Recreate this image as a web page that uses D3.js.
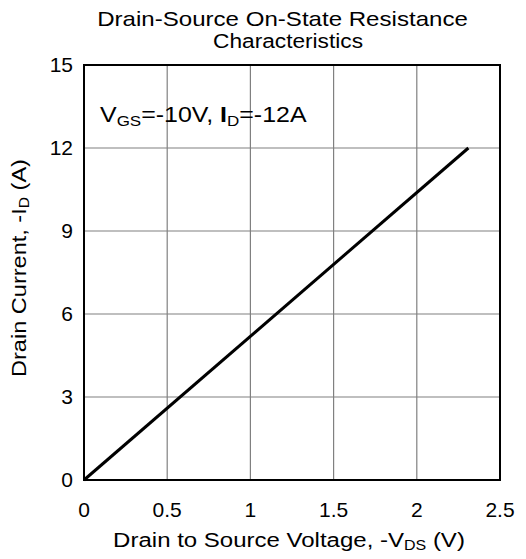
<!DOCTYPE html>
<html>
<head>
<meta charset="utf-8">
<script src="https://cdn.jsdelivr.net/npm/d3@7"></script>
<style>
  body { margin: 0; background: #fff; }
  svg text { font-family: "Liberation Sans", Arial, sans-serif; fill: #000; }
</style>
</head>
<body>
<div id="chart-area"></div>
<script>
// data
var vds = [0, 2.31];          // -VDS (V)
var id = [0, 12];             // -ID (A)
var xTicks = [0, 0.5, 1, 1.5, 2, 2.5];
var yTicks = [0, 3, 6, 9, 12, 15];

var svg_width = 526, svg_height = 559;
var margin = { top: 65, right: 26, bottom: 79, left: 84 };
var width = svg_width - margin.left - margin.right;
var height = svg_height - margin.top - margin.bottom;

var svg = d3.select("#chart-area").append("svg")
    .attr("width", svg_width)
    .attr("height", svg_height);

var g = svg.append("g")
    .attr("transform", "translate(" + margin.left + "," + margin.top + ")");

var x = d3.scaleLinear().domain([0, 2.5]).range([0, width]);
var y = d3.scaleLinear().domain([0, 15]).range([height, 0]);

// grid
g.selectAll(".vgrid").data(xTicks.slice(1, -1)).enter().append("line")
    .attr("x1", d => x(d)).attr("x2", d => x(d))
    .attr("y1", 0).attr("y2", height)
    .attr("stroke", "#808080").attr("stroke-width", 1.2);
g.selectAll(".hgrid").data(yTicks.slice(1, -1)).enter().append("line")
    .attr("y1", d => y(d)).attr("y2", d => y(d))
    .attr("x1", 0).attr("x2", width)
    .attr("stroke", "#808080").attr("stroke-width", 1.2);

// frame
g.append("rect")
    .attr("width", width).attr("height", height)
    .attr("fill", "none").attr("stroke", "#000").attr("stroke-width", 2);

// tick labels
g.selectAll(".xt").data(xTicks).enter().append("text")
    .attr("x", d => x(d)).attr("y", height + 37)
    .attr("text-anchor", "middle").attr("font-size", "21px")
    .text(d => d);
g.selectAll(".yt").data(yTicks).enter().append("text")
    .attr("x", -11).attr("y", d => y(d) + 7)
    .attr("text-anchor", "end").attr("font-size", "21px")
    .text(d => d);

// the curve
var line = d3.line().x(d => x(d[0])).y(d => y(d[1]));
g.append("path")
    .datum(d3.zip(vds, id))
    .attr("d", line)
    .attr("fill", "none").attr("stroke", "#000").attr("stroke-width", 3);

// stretch a text horizontally so it spans the wanted width
function fitWidth(sel, w) {
    var bw = sel.node().getBBox().width;
    return w / bw;
}

// title
var t1 = svg.append("text").attr("text-anchor", "middle").attr("font-size", "20px")
    .text("Drain-Source On-State Resistance");
t1.attr("transform", "translate(282.5,26) scale(" + fitWidth(t1, 371) + ",1)");
var t2 = svg.append("text").attr("text-anchor", "middle").attr("font-size", "20px")
    .text("Characteristics");
t2.attr("transform", "translate(288,48) scale(" + fitWidth(t2, 150) + ",1)");

// annotation
var ann = svg.append("text").attr("font-size", "22px");
ann.append("tspan").text("V");
ann.append("tspan").attr("font-size", "15px").attr("dy", 4).text("GS");
ann.append("tspan").attr("dy", -4).text("=-10V, ");
ann.append("tspan").attr("font-weight", "bold").text("I");
ann.append("tspan").attr("font-size", "15px").attr("dy", 4).text("D");
ann.append("tspan").attr("dy", -4).text("=-12A");
ann.attr("transform", "translate(100,122) scale(" + fitWidth(ann, 207) + ",1)");

// axis labels
var xl = svg.append("text").attr("text-anchor", "middle").attr("font-size", "21px");
xl.append("tspan").text("Drain to Source Voltage, -V");
xl.append("tspan").attr("font-size", "14px").attr("dy", 3).text("DS");
xl.append("tspan").attr("dy", -3).text(" (V)");
xl.attr("transform", "translate(289,547) scale(" + fitWidth(xl, 352) + ",1)");

var yl = svg.append("text").attr("text-anchor", "middle").attr("font-size", "21px");
yl.append("tspan").text("Drain Current, -I");
yl.append("tspan").attr("font-size", "14px").attr("dy", 3).text("D");
yl.append("tspan").attr("dy", -3).text(" (A)");
yl.attr("transform", "translate(26,268) rotate(-90) scale(" + fitWidth(yl, 218) + ",1)");
</script>
</body>
</html>
